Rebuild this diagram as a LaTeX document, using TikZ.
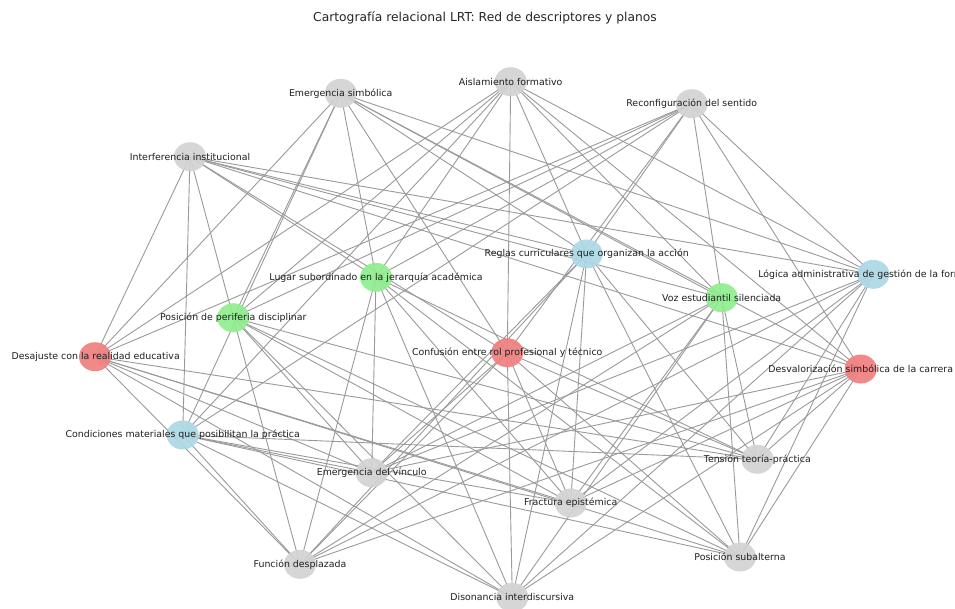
\documentclass[tikz,border=0pt]{standalone}
\usepackage{fontspec}
\setmainfont{DejaVu Sans}
\usetikzlibrary{shapes.geometric,backgrounds}
\definecolor{ngray}{HTML}{D3D3D3}
\definecolor{ngreen}{HTML}{90EE90}
\definecolor{nblue}{HTML}{ADD8E6}
\definecolor{nred}{HTML}{F08080}
\definecolor{edgec}{HTML}{9A9A9A}
\begin{document}
\begin{tikzpicture}[x=1pt,y=-1pt,
  nd/.style={ellipse, minimum width=32pt, minimum height=29pt, inner sep=0pt, draw=none, fill opacity=0.92},
  gn/.style={nd, fill=ngray},
  grn/.style={nd, fill=ngreen},
  bn/.style={nd, fill=nblue},
  rn/.style={nd, fill=nred},
  lbl/.style={font=\fontsize{9.4}{11}\selectfont, inner sep=0pt, text=black!88},
  edge/.style={draw=edgec, line width=0.9pt}]
\useasboundingbox (0,0) rectangle (955,608);
\clip (0,0) rectangle (955,608);
\node[font=\fontsize{12.3}{14}\selectfont, text=black!85] (title) at (485,18) {Cartografía relacional LRT: Red de descriptores y planos};
% gray nodes (planos)
\node[gn] (es) at (340.7,93.3) {};
\node[gn] (af) at (510.7,81.7) {};
\node[gn] (rs) at (691.7,103.7) {};
\node[gn] (ii) at (190,156.7) {};
\node[gn] (ev) at (371.7,472.7) {};
\node[gn] (tt) at (757.3,459.3) {};
\node[gn] (fe) at (570.7,503) {};
\node[gn] (fd) at (300,564.3) {};
\node[gn] (ps) at (740,557) {};
\node[gn] (di) at (512.3,597.3) {};
% blue
\node[bn] (rc) at (586.7,254) {};
\node[bn] (la) at (873.3,274.3) {};
\node[bn] (cm) at (182.7,435) {};
% green
\node[grn] (ls) at (376,277.3) {};
\node[grn] (ve) at (721.7,297.7) {};
\node[grn] (pp) at (233.3,317.7) {};
% red
\node[rn] (dr) at (95,356.7) {};
\node[rn] (cr) at (507.3,352.7) {};
\node[rn] (ds) at (860.7,369) {};
% edges
\begin{scope}[on background layer]
\fill[white] (0,0) rectangle (955,608);
\foreach \a in {rc,la,cm,ls,ve,pp,dr,cr,ds}
  \foreach \b in {es,af,rs,ii,ev,tt,fe,fd,ps,di}
    \draw[edge] (\a.center) -- (\b.center);
\end{scope}
% labels
\node[lbl] (es-l) at (es) {Emergencia simbólica};
\node[lbl] (af-l) at (af) {Aislamiento formativo};
\node[lbl] (rs-l) at (rs) {Reconfiguración del sentido};
\node[lbl] (ii-l) at (ii) {Interferencia institucional};
\node[lbl] (ev-l) at (ev) {Emergencia del vínculo};
\node[lbl] (tt-l) at (tt) {Tensión teoría-práctica};
\node[lbl] (fe-l) at (fe) {Fractura epistémica};
\node[lbl] (fd-l) at (fd) {Función desplazada};
\node[lbl] (ps-l) at (ps) {Posición subalterna};
\node[lbl] (di-l) at (di) {Disonancia interdiscursiva};
\node[lbl] (rc-l) at (rc) {Reglas curriculares que organizan la acción};
\node[lbl] (la-l) at (la) {Lógica administrativa de gestión de la formación};
\node[lbl] (cm-l) at (cm) {Condiciones materiales que posibilitan la práctica};
\node[lbl] (ls-l) at (ls) {Lugar subordinado en la jerarquía académica};
\node[lbl] (ve-l) at (ve) {Voz estudiantil silenciada};
\node[lbl] (pp-l) at (pp) {Posición de periferia disciplinar};
\node[lbl, anchor=east] (dr-l) at ([xshift=85pt]dr.center) {Desajuste con la realidad educativa};
\node[lbl] (cr-l) at (cr) {Confusión entre rol profesional y técnico};
\node[lbl] (ds-l) at (ds) {Desvalorización simbólica de la carrera};
\end{tikzpicture}
\end{document}
